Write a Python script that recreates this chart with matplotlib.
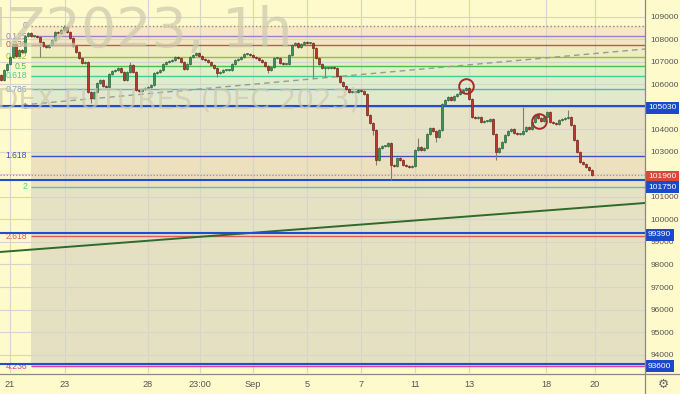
import numpy as np
import matplotlib
matplotlib.use('Agg')
import matplotlib.pyplot as plt
from matplotlib import font_manager
from matplotlib.lines import Line2D

# ---------------- data ----------------
closes = [
    106200, 106640, 106910, 107220, 107800, 107270, 107530, 107440, 108150, 108290,
    108150, 108150, 108110, 107890, 107710, 107670, 107760, 107980, 108330, 108290,
    108420, 108560, 108330, 108070, 107710, 107440, 107180, 106960, 107000, 105670,
    105400, 105670, 106070, 106200, 105930, 105890, 106470, 106600, 106640, 106730,
    106560, 106200, 106560, 106870, 106560, 105760, 105710, 105800, 105840, 105890,
    105980, 106510, 106560, 106640, 106910, 107000, 107040, 107090, 107220, 107180,
    107000, 106690, 106910, 107220, 107310, 107400, 107270, 107130, 107090, 107000,
    106870, 106730, 106510, 106560, 106640, 106640, 106640, 106910, 107090, 107130,
    107220, 107360, 107360, 107310, 107220, 107180, 107090, 107000, 106820, 106640,
    106780, 107180, 107180, 106960, 106910, 106910, 107310, 107760, 107840, 107670,
    107800, 107890, 107840, 107840, 107620, 107180, 106910, 106730, 106730, 106730,
    106780, 106730, 106380, 106110, 105930, 105800, 105670, 105670, 105670, 105760,
    105710, 105580, 104640, 104290, 103980, 102640, 103180, 103270, 103270, 103400,
    102420, 102380, 102730, 102640, 102420, 102380, 102330, 102380, 103090, 103220,
    103090, 103180, 103800, 104070, 103930, 103670, 103980, 105130, 105310, 105440,
    105310, 105490, 105580, 105670, 105760, 105840, 105360, 104560, 104510, 104560,
    104330, 104380, 104380, 104470, 103800, 103000, 103180, 103440, 103760, 103930,
    104020, 103840, 103800, 103800, 103930, 104110, 104020, 104330, 104640, 104510,
    104380, 104560, 104780, 104330, 104290, 104240, 104420, 104470, 104510, 104560,
    104200, 103530, 103000, 102560, 102470, 102330, 102200, 101960,
]
first_open = 106400
# notable wick extremes: index -> (high, low)
wick_extremes = {
    13: (None, 107220), 21: (108640, None), 30: (None, 105180), 43: (107000, None),
    72: (None, 106330), 89: (None, 106510), 104: (None, 106290), 108: (None, 106330),
    124: (None, 103760), 125: (None, 102420), 130: (None, 101760), 139: (103620, None),
    145: (None, 103440), 165: (None, 102640), 174: (105000, None), 189: (104870, None),
}

time_labels = ['21', '23', '28', '23:00', 'Sep', '5', '7', '11', '13', '18', '20']
time_label_idx = [3, 21.3, 49, 66.3, 84, 102, 120, 138, 156, 181.7, 198]
price_ticks = list(range(94000, 109001, 1000))

fib_high, fib_low = 108600, 105030
fib_ratios = [0, 0.125, 0.236, 0.382, 0.5, 0.618, 0.786, 1, 1.618, 2, 2.618, 4.236]
fib_labels = ['0', '0.125', '0.236', '0.382', '0.5', '0.618', '0.786', '1', '1.618', '2', '2.618', '4.236']
fib_colors = ['#8c8c8c', '#9a7fd1', '#c8554a', '#a4b83c', '#4cbf4c', '#3fcf9a', '#6aa6cf',
              '#8c8c8c', '#4050b8', '#44d0a0', '#e05a5a', '#e0409c']
fib_fill_colors = ['#f7e7c4', '#f3e6c4', '#eeedc0', '#e6efc0', '#def0c6', '#ddedcb',
                   '#e2e8cc', '#e6e2c5', '#ece0bd', '#e5e1c3', '#e6e0c2']

blue_levels = [105030, 101750, 99390, 93600]
last_price = 101960
green_trend = [(-0.33, 98556), (214.67, 100734)]
dashed_trend = [(7, 105089), (214.67, 107577)]
circles = [(155, 105930), (179.3, 104380)]

# ---------------- style ----------------
names = {f.name for f in font_manager.fontManager.ttflist}
FONT = 'Liberation Sans Narrow' if 'Liberation Sans Narrow' in names else 'Liberation Sans'
BG = '#fffacb'
W, H = 680, 394

fig = plt.figure(figsize=(6.8, 3.94), dpi=100, facecolor=BG)
ax = fig.add_axes([0, 21 / H, 645 / W, 373 / H])
ax.set_facecolor(BG)
XMIN, XMAX = -1 / 3, 644 / 3
ax.set_xlim(XMIN, XMAX)
ax.set_ylim(93178, 109755)
for s in ax.spines.values():
    s.set_visible(False)

# fib fills
fib_prices = [fib_high - r * (fib_high - fib_low) for r in fib_ratios]
xfrac0 = 31 / 645
for k in range(len(fib_prices) - 1):
    ax.axhspan(fib_prices[k + 1], fib_prices[k], xmin=xfrac0, xmax=1,
               color=fib_fill_colors[k], lw=0, zorder=0.2)

# grid
for p in price_ticks:
    ax.axhline(p, color='#d6d4cc', lw=0.8, zorder=0.4)
for t in time_label_idx:
    ax.axvline(t, color='#d6d4cc', lw=0.8, zorder=0.4)

# fib lines + labels
x_fib0 = (31 - 1) / 3
for r, p, lab, c in zip(fib_ratios, fib_prices, fib_labels, fib_colors):
    ls = ':' if r == 0 else '-'
    ax.hlines(p, x_fib0, XMAX, colors=c, lw=1.0, linestyles=ls, zorder=1)
    ax.text(x_fib0 - 1.3, p, lab, ha='right', va='center', fontsize=6.2,
            color=c, family=FONT, zorder=1)

# watermarks
fig.text(-9 / W, 1 - 47 / H, 'IZ2023, 1h', fontsize=40, color='#cdc9ad',
         alpha=0.7, ha='left', va='baseline', zorder=0.5)
fig.text(-3 / W, 1 - 108 / H, 'DEX FUTURES (DEC 2023)', fontsize=20, color='#cdc9ad',
         alpha=0.7, ha='left', va='baseline', zorder=0.5)

# trend lines
ax.plot([green_trend[0][0], green_trend[1][0]], [green_trend[0][1], green_trend[1][1]],
        color='#2f6a2a', lw=1.4, zorder=2)
ax.plot([dashed_trend[0][0], dashed_trend[1][0]], [dashed_trend[0][1], dashed_trend[1][1]],
        color='#9a9a92', lw=1.0, ls=(0, (4, 3)), zorder=2)

# horizontal level lines
for p in blue_levels:
    ax.axhline(p, color='#1f4fd1', lw=1.5, zorder=2.5)
ax.axhline(last_price, color='#e07a70', lw=0.9, ls=(0, (1, 1.5)), zorder=2.5)

# candles
n = len(closes)
xs = np.arange(n)
opens = [first_open] + closes[:-1]
WICK = 45
highs = [max(o, c) + WICK for o, c in zip(opens, closes)]
lows = [min(o, c) - WICK for o, c in zip(opens, closes)]
for i, (hi, lo) in wick_extremes.items():
    if hi is not None:
        highs[i] = hi
    if lo is not None:
        lows[i] = lo
ax.vlines(xs, lows, highs, colors='#7f7f78', lw=0.8, zorder=3)
bottoms = [min(o, c) for o, c in zip(opens, closes)]
heights = [max(abs(c - o), 35) for o, c in zip(opens, closes)]
up = [c >= o for o, c in zip(opens, closes)]
fcs = ['#3f8f58' if u else '#b8392c' for u in up]
ecs = ['#2a6a3e' if u else '#7a221a' for u in up]
ax.bar(xs, heights, bottom=bottoms, width=0.8, color=fcs, edgecolor=ecs, lw=0.5, zorder=4)

# circles
for cx, cy in circles:
    ax.plot(cx, cy, 'o', ms=10.5, mfc='none', mec='#a82a2a', mew=1.4, zorder=5)

# axes ticks
ax.yaxis.tick_right()
ax.set_yticks(price_ticks)
ax.set_yticklabels([str(p) for p in price_ticks])
ax.tick_params(axis='y', length=0, pad=4, labelsize=6.0, labelcolor='#555555')
ax.set_xticks(time_label_idx)
ax.set_xticklabels(time_labels)
ax.tick_params(axis='x', length=0, pad=5, labelsize=6.6, labelcolor='#555555')
for lab in ax.get_xticklabels() + ax.get_yticklabels():
    lab.set_family(FONT)

# price boxes
def box(price, text, fc, dy=0):
    ax.annotate(text, xy=(1, price), xycoords=('axes fraction', 'data'),
                xytext=(2.2, dy), textcoords='offset points', ha='left', va='center',
                fontsize=6.0, color='white', family=FONT, annotation_clip=False,
                bbox=dict(boxstyle='square,pad=0.3', fc=fc, ec='none'), zorder=10)

box(105030, '105030', '#1c48cc', dy=-1)
box(last_price, '101960', '#d9473b', dy=-0.8)
box(101750, '101750', '#1c48cc', dy=-5)
box(99390, '99390', '#1c48cc', dy=-1)
box(93600, '93600', '#1c48cc', dy=-2)

# frame lines
fig.add_artist(Line2D([645 / W, 645 / W], [0, 1], color='#8a8a80', lw=0.9))
fig.add_artist(Line2D([0, 1], [1 - 374 / H, 1 - 374 / H], color='#8a8a80', lw=0.9))
fig.text(663 / W, 1 - 384 / H, '\u2699', fontsize=9, color='#666666', ha='center', va='center')

fig.savefig('out.png', dpi=100, facecolor=BG)
